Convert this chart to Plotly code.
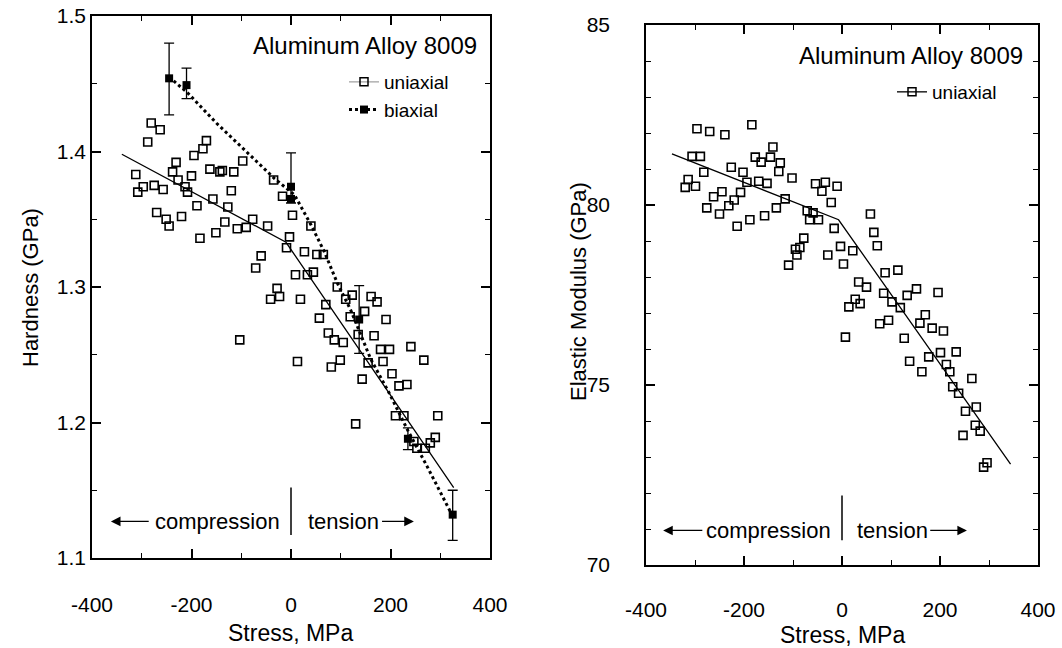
import plotly.graph_objects as go

# ---------------- data: left panel (hardness) ----------------
uni_stress = [-312, -308, -297, -275, -257, -288, -281, -263, -270, -251, -245, -238, -231, -227,
              -220, -213, -208, -200, -195, -189, -183, -177, -170, -163, -157, -151, -143, -138,
              -133, -127, -120, -115, -108, -97, -90, -77, -60, -71, -47, -35, -28, -41, -23, -17,
              -9, -3, 3, 9, 19, 27, 33, 40, 45, 52, 65, 57, 70, 93, 110, 123, 119, 148, 161, 173,
              191, -103, 13, 75, 87, 105, 99, 81, 135, 167, 155, 143, 180, 198, 185, 203, 217, 233,
              241, 267, 130, 210, 227, 247, 253, 270, 280, 290, 295]
uni_hard = [1.383, 1.370, 1.374, 1.375, 1.372, 1.407, 1.421, 1.416, 1.355, 1.350, 1.345, 1.385,
            1.392, 1.379, 1.352, 1.374, 1.370, 1.382, 1.397, 1.360, 1.336, 1.402, 1.408, 1.387,
            1.365, 1.340, 1.385, 1.386, 1.348, 1.359, 1.371, 1.385, 1.343, 1.393, 1.344, 1.350,
            1.323, 1.314, 1.345, 1.379, 1.299, 1.291, 1.293, 1.367, 1.329, 1.337, 1.353, 1.309,
            1.291, 1.326, 1.309, 1.345, 1.311, 1.324, 1.324, 1.277, 1.287, 1.300, 1.291, 1.294,
            1.278, 1.282, 1.293, 1.289, 1.276, 1.261, 1.245, 1.266, 1.261, 1.259, 1.246, 1.241,
            1.265, 1.264, 1.244, 1.232, 1.254, 1.254, 1.245, 1.236, 1.227, 1.228, 1.256, 1.246,
            1.199, 1.205, 1.205, 1.186, 1.181, 1.181, 1.185, 1.189, 1.205]

uni_fit_stress = [-340, -10, 327]
uni_fit_hard = [1.398, 1.333, 1.152]

bi_stress = [-245, -210, 0, 0, 137, 235, 325]
bi_hard = [1.454, 1.449, 1.374, 1.365, 1.276, 1.188, 1.132]
bi_err_plus = [0.026, 0.0125, 0.025, 0.0, 0.025, 0.008, 0.018]
bi_err_minus = [0.027, 0.010, 0.012, 0.0, 0.025, 0.008, 0.019]

bi_fit_stress = [-245, -207, -150, -87, -33, 7, 40, 67, 93, 120, 160, 197, 235, 273, 322]
bi_fit_hard = [1.455, 1.443, 1.421, 1.399, 1.380, 1.368, 1.346, 1.326, 1.303, 1.283, 1.247,
               1.222, 1.194, 1.168, 1.133]

# ---------------- data: right panel (elastic modulus) ----------------
mod_stress = [-296, -270, -239, -184, -141, -306, -289, -314, -320, -299, -282, -226, -202, -194,
              -177, -165, -146, -126, -129, -102, -170, -153, -262, -245, -276, -250, -231, -220,
              -207, -214, -188, -158, -134, -116, -71, -66, -54, -34, -41, -10, -22, -59, -48, -16,
              -78, -86, -95, -92, -109, -29, -3, 22, 3, 58, 65, 72, 34, 50, 27, 37, 14, 88, 114,
              85, 102, 119, 133, 152, 196, 77, 95, 170, 159, 184, 207, 7, 127, 138, 163, 177, 201,
              233, 213, 220, 226, 238, 265, 252, 274, 272, 282, 247, 289, 296]
mod_val = [82.12, 82.04, 81.95, 82.23, 81.61, 81.35, 81.35, 80.71, 80.49, 80.52, 80.91, 81.05,
           80.91, 80.63, 81.33, 81.19, 81.33, 81.17, 80.93, 80.75, 80.66, 80.60, 80.23, 80.37,
           79.92, 79.75, 79.98, 80.14, 80.35, 79.41, 79.59, 79.70, 79.92, 80.17, 79.84, 79.59,
           80.59, 80.63, 80.38, 80.52, 80.07, 79.78, 79.59, 79.35, 79.08, 78.82, 78.77, 78.61,
           78.33, 78.61, 78.85, 78.73, 78.36, 79.75, 79.24, 78.87, 77.86, 77.72, 77.38, 77.26,
           77.17, 78.12, 78.19, 77.55, 77.31, 77.15, 77.49, 77.67, 77.57, 76.70, 76.80, 76.95,
           76.72, 76.58, 76.50, 76.33, 76.30, 75.66, 75.37, 75.78, 75.90, 75.92, 75.57, 75.37,
           74.95, 74.77, 75.18, 74.27, 74.39, 73.88, 73.72, 73.60, 72.72, 72.84]

mod_fit_stress = [-347, -7, 344]
mod_fit_val = [81.42, 79.59, 72.80]

x_ticks = [-400, -200, 0, 200, 400]
x_ticktext = ["-400", "-200", "0", "200", "400"]
x_minor = [-300, -100, 100, 300]
h_ticks = [1.1, 1.2, 1.3, 1.4, 1.5]
h_ticktext = ["1.1", "1.2", "1.3", "1.4", "1.5"]
h_minor = [1.15, 1.25, 1.35, 1.45]
e_ticks = [70, 75, 80, 85]
e_ticktext = ["70", "75", "80", "85"]
e_minor = [71, 72, 73, 74, 76, 77, 78, 79, 81, 82, 83, 84]

FONT = "Liberation Sans"
W, H = 1062, 648

fig = go.Figure()

# left panel
fig.add_trace(go.Scatter(x=uni_fit_stress, y=uni_fit_hard, mode="lines",
                         line=dict(color="black", width=1.3), showlegend=False,
                         xaxis="x", yaxis="y"))
fig.add_trace(go.Scatter(x=bi_fit_stress, y=bi_fit_hard, mode="lines",
                         line=dict(color="black", width=3, dash="dot"), showlegend=False,
                         xaxis="x", yaxis="y"))
fig.add_trace(go.Scatter(x=uni_stress, y=uni_hard, mode="markers",
                         marker=dict(symbol="square-open", size=8, color="black",
                                     line=dict(width=1.6, color="black")),
                         showlegend=False, xaxis="x", yaxis="y"))
fig.add_trace(go.Scatter(x=bi_stress, y=bi_hard, mode="markers",
                         marker=dict(symbol="square", size=8, color="black"),
                         error_y=dict(type="data", symmetric=False, array=bi_err_plus,
                                      arrayminus=bi_err_minus, color="black",
                                      thickness=1.3, width=5),
                         showlegend=False, xaxis="x", yaxis="y"))
# legend entries (left)
fig.add_trace(go.Scatter(x=[None], y=[None], mode="lines+markers", name="uniaxial",
                         line=dict(color="#b0b0b0", width=1.5),
                         marker=dict(symbol="square-open", size=8, color="black",
                                     line=dict(width=1.5)),
                         legend="legend", xaxis="x", yaxis="y"))
fig.add_trace(go.Scatter(x=[None], y=[None], mode="lines+markers", name="biaxial",
                         line=dict(color="black", width=3, dash="dot"),
                         marker=dict(symbol="square", size=8, color="black"),
                         legend="legend", xaxis="x", yaxis="y"))

# right panel
fig.add_trace(go.Scatter(x=mod_fit_stress, y=mod_fit_val, mode="lines",
                         line=dict(color="black", width=1.3), showlegend=False,
                         xaxis="x2", yaxis="y2"))
fig.add_trace(go.Scatter(x=mod_stress, y=mod_val, mode="markers",
                         marker=dict(symbol="square-open", size=8, color="black",
                                     line=dict(width=1.6, color="black")),
                         showlegend=False, xaxis="x2", yaxis="y2"))
fig.add_trace(go.Scatter(x=[None], y=[None], mode="lines+markers", name="uniaxial",
                         line=dict(color="black", width=1.3),
                         marker=dict(symbol="square-open", size=8, color="black",
                                     line=dict(width=1.5)),
                         legend="legend2", xaxis="x2", yaxis="y2"))

def px_x(p):
    return p / W

def px_y(p):
    return 1 - p / H

axis_common = dict(ticks="inside", ticklen=9, tickwidth=1.5, tickcolor="black",
                   showline=True, linecolor="black", linewidth=1.5, mirror="allticks",
                   showgrid=False, zeroline=False, automargin=False,
                   tickfont=dict(family=FONT, size=21, color="black"))

fig.update_layout(
    width=W, height=H, margin=dict(l=0, r=0, t=0, b=0, autoexpand=False),
    paper_bgcolor="white", plot_bgcolor="white",
    font=dict(family=FONT, color="black"),
    xaxis=dict(domain=[px_x(92), px_x(490)], range=[-400, 400], anchor="y",
               tickmode="array", tickvals=x_ticks, ticktext=x_ticktext, ticklabelstandoff=27,
               minor=dict(tickmode="array", tickvals=x_minor, ticks="inside", ticklen=5,
                          tickwidth=1.3, tickcolor="black"),
               **axis_common),
    yaxis=dict(domain=[px_y(558), px_y(16)], range=[1.1, 1.5], anchor="x",
               tickmode="array", tickvals=h_ticks, ticktext=h_ticktext, ticklabelstandoff=0,
               minor=dict(tickmode="array", tickvals=h_minor, ticks="inside", ticklen=5,
                          tickwidth=1.3, tickcolor="black"),
               **axis_common),
    xaxis2=dict(domain=[px_x(646), px_x(1038)], range=[-400, 400], anchor="y2",
                tickmode="array", tickvals=x_ticks, ticktext=x_ticktext, ticklabelstandoff=25,
                minor=dict(tickmode="array", tickvals=x_minor, ticks="inside", ticklen=5,
                           tickwidth=1.3, tickcolor="black"),
                **axis_common),
    yaxis2=dict(domain=[px_y(565), px_y(25)], range=[70, 85], anchor="x2",
                tickmode="array", tickvals=e_ticks, ticktext=e_ticktext, ticklabelstandoff=30,
                minor=dict(tickmode="array", tickvals=e_minor, ticks="inside", ticklen=5,
                           tickwidth=1.3, tickcolor="black"),
                **axis_common),
    legend=dict(x=px_x(344), y=px_y(63), xanchor="left", yanchor="top",
                bgcolor="rgba(0,0,0,0)", font=dict(family=FONT, size=19),
                tracegroupgap=0, itemwidth=30),
    legend2=dict(x=px_x(892), y=px_y(73), xanchor="left", yanchor="top",
                 bgcolor="rgba(0,0,0,0)", font=dict(family=FONT, size=19),
                 tracegroupgap=0, itemwidth=30),
)

ann = []
# axis titles
ann.append(dict(text="Stress, MPa", xref="paper", yref="paper", x=px_x(291), y=px_y(633),
                showarrow=False, font=dict(size=23), xanchor="center", yanchor="middle"))
ann.append(dict(text="Stress, MPa", xref="paper", yref="paper", x=px_x(842), y=px_y(635),
                showarrow=False, font=dict(size=23), xanchor="center", yanchor="middle"))
ann.append(dict(text="Hardness (GPa)", xref="paper", yref="paper", x=px_x(30), y=px_y(288),
                showarrow=False, font=dict(size=22), textangle=-90,
                xanchor="center", yanchor="middle"))
ann.append(dict(text="Elastic Modulus (GPa)", xref="paper", yref="paper", x=px_x(578),
                y=px_y(292), showarrow=False, font=dict(size=22), textangle=-90,
                xanchor="center", yanchor="middle"))
# inner titles
ann.append(dict(text="Aluminum Alloy 8009", xref="x", yref="y", x=377, y=1.478,
                showarrow=False, font=dict(size=24), xanchor="right", yanchor="middle"))
ann.append(dict(text="Aluminum Alloy 8009", xref="x2", yref="y2", x=374, y=84.16,
                showarrow=False, font=dict(size=24), xanchor="right", yanchor="middle"))
# compression / tension labels
for xr, yr, yv, c_ctr, t_ctr, la, lh, ra, rh in [
        ("x", "y", 1.127, -147, 105, -283, -362, 180, 247),
        ("x2", "y2", 70.96, -151, 104, -282, -365, 177, 255)]:
    ann.append(dict(text="compression", xref=xr, yref=yr, x=c_ctr, y=yv, showarrow=False,
                    font=dict(size=22), xanchor="center", yanchor="middle"))
    ann.append(dict(text="tension", xref=xr, yref=yr, x=t_ctr, y=yv, showarrow=False,
                    font=dict(size=22), xanchor="center", yanchor="middle"))
    ann.append(dict(text="", xref=xr, yref=yr, x=lh, y=yv, ax=la, ay=yv, axref=xr, ayref=yr,
                    showarrow=True, arrowhead=2, arrowsize=1.6, arrowwidth=1.2,
                    arrowcolor="black"))
    ann.append(dict(text="", xref=xr, yref=yr, x=rh, y=yv, ax=ra, ay=yv, axref=xr, ayref=yr,
                    showarrow=True, arrowhead=2, arrowsize=1.6, arrowwidth=1.2,
                    arrowcolor="black"))
fig.update_layout(annotations=ann)

shapes = [
    dict(type="line", xref="x", yref="y", x0=0, x1=0, y0=1.117, y1=1.152,
         line=dict(color="black", width=1.5)),
    dict(type="line", xref="x2", yref="y2", x0=0, x1=0, y0=70.69, y1=71.93,
         line=dict(color="black", width=1.5)),
]
fig.update_layout(shapes=shapes)

fig.write_html("out.html", config={"displayModeBar": False},
               post_script="document.body.style.margin='0px';document.body.style.padding='0px';")
